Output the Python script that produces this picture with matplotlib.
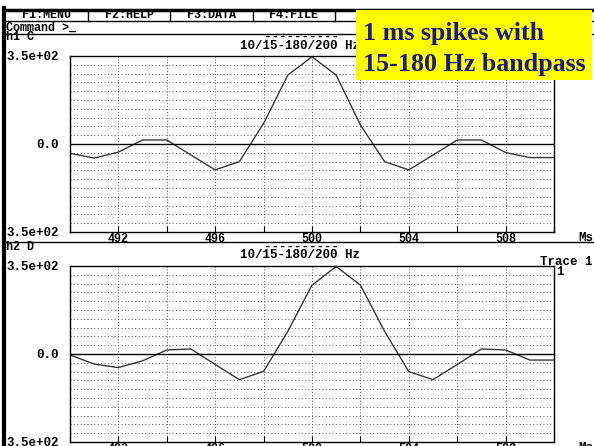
import matplotlib
matplotlib.use("Agg")
import matplotlib.pyplot as plt
from matplotlib.lines import Line2D
from matplotlib.patches import Rectangle
import numpy as np

# sample times (ms) and the two filtered traces
times = list(range(490, 511))
trace_h1 = [-37, -56, -32, 16, 16, -44, -103, -70, 82, 274, 347,
            274, 76, -70, -103, -44, 16, 16, -34, -54, -54]
trace_h2 = [-4, -40, -54, -27, 16, 20, -42, -102, -69, 90, 274,
            348, 274, 90, -70, -102, -42, 20, 16, -24, -24]
x_labels = [492, 496, 500, 504, 508]
y_labels = ["3.5e+02", "0.0", "3.5e+02"]
menu_items = ["F1:MENU", "F2:HELP", "F3:DATA", "F4:FILE", "F5:"]

W, H = 594, 446
MONO = "Liberation Mono"
fig = plt.figure(figsize=(W / 100, H / 100), dpi=100)


def fx(x):
    return x / W


def fy(y):
    return 1 - y / H


def hline(y, x0=0, x1=W, lw=1.0):
    fig.add_artist(Line2D([fx(x0), fx(x1)], [fy(y), fy(y)], color="black", lw=lw))


def vline(x, y0, y1, lw=1.0):
    fig.add_artist(Line2D([fx(x), fx(x)], [fy(y0), fy(y1)], color="black", lw=lw))


def txt(x, y, s, ha="left", size=9):
    # y is the baseline in pixels from the top
    fig.text(fx(x), fy(y), s, ha=ha, va="baseline", fontsize=size,
             family=MONO, weight="bold", color="black")


def panel(top, values):
    ax = fig.add_axes([fx(70), fy(top + 176), fx(554) - fx(70), 176 / H])
    ax.plot(times, values, color="#383838", lw=1.0)
    ax.axhline(0, color="black", lw=1.0)
    ax.set_xlim(490, 510)
    ax.set_ylim(-350, 350)
    ax.set_xticks(x_labels)
    ax.set_xticklabels([str(v) for v in x_labels], family=MONO, weight="bold", fontsize=8.5)
    ax.set_xticks(np.arange(490, 511, 2), minor=True)
    ax.tick_params(axis="x", which="both", direction="in", length=4, width=0.8, pad=1)
    ax.set_yticks([-350, 0, 350])
    ax.set_yticklabels(y_labels, family=MONO, weight="bold", fontsize=9)
    ax.set_yticks(np.arange(-350, 351, 35), minor=True)
    ax.tick_params(axis="y", which="both", length=0, pad=8)
    ax.grid(True, axis="x", which="both", color="#555555", ls=(0, (1, 2)), lw=0.7)
    ax.grid(True, axis="y", which="minor", color="#555555", ls=(0, (1, 2.5)), lw=0.7)
    for sp in ax.spines.values():
        sp.set_linewidth(1.0)
    ax.text(1.065, -0.035, "Ms", transform=ax.transAxes, ha="center", va="center",
            family=MONO, weight="bold", fontsize=9)
    return ax


# screen chrome
hline(9.5, 4, W, lw=2.5)
vline(3.5, 8, H, lw=3)
hline(20.5, 4, W, lw=1)
hline(33.5, 4, W, lw=1)
for i, item in enumerate(menu_items):
    txt(46.5 + 82.5 * i, 18.5, item, ha="center", size=8.5)
    if i > 0:
        vline(87.5 + 82.5 * (i - 1), 10, 20.5)
txt(6, 31, "Command >_", size=8.5)

# top panel
txt(6, 40, "h1 C", size=8.5)
txt(302, 40, "----------", ha="center")
txt(300, 49, "10/15-180/200 Hz", ha="center")
panel(56, trace_h1)

hline(242.5, 4, W, lw=1)

# bottom panel
txt(6, 250, "h2 D", size=8.5)
txt(302, 250, "----------", ha="center")
txt(300, 258, "10/15-180/200 Hz", ha="center")
txt(566, 265, "Trace 1", ha="center")
txt(560, 275, "1", ha="center")
panel(266, trace_h2)

# yellow annotation box
fig.add_artist(Rectangle((fx(356), fy(80)), fx(592) - fx(356), fy(10) - fy(80),
                         facecolor="#ffff00", edgecolor="none", zorder=10))
for y, s in [(40, "1 ms spikes with"), (71, "15-180 Hz bandpass")]:
    fig.text(fx(363), fy(y), s, ha="left", va="baseline", fontsize=18.7,
             family="Liberation Serif", weight="bold", color="#1a1a8c", zorder=11)

fig.savefig("out.png", dpi=100)
